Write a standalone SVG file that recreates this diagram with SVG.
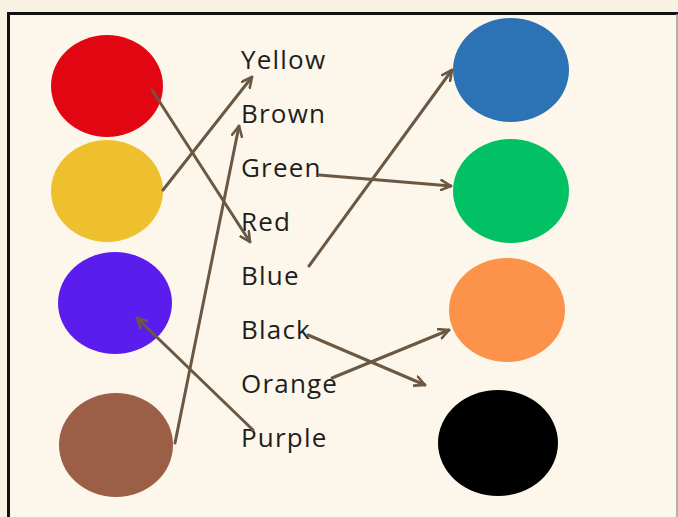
<svg xmlns="http://www.w3.org/2000/svg" width="678" height="517" viewBox="0 0 678 517">
<defs>
<style>
.lbl{font-family:"Open Sans","Liberation Sans",sans-serif;font-size:26px;fill:#1e1e1e;letter-spacing:1.2px}
.con{stroke:#6b5843;stroke-width:3;fill:none;stroke-linecap:round}
</style>
<marker id="ah" viewBox="0 0 12 12" refX="11" refY="6" markerWidth="12" markerHeight="12" markerUnits="userSpaceOnUse" orient="auto">
<path d="M1,1 L11,6 L1,11" fill="none" stroke="#6b5843" stroke-width="2.6" stroke-linecap="round" stroke-linejoin="round"/>
</marker>
</defs>
<rect x="0" y="0" width="678" height="517" fill="#f8f2e3"/>
<rect x="8.5" y="13.5" width="672" height="510" fill="#fdf6ea" stroke="#111" stroke-width="3"/>
<line x1="677" y1="14" x2="677" y2="517" stroke="#999" stroke-width="1.5"/>

<g id="circle-red"><ellipse cx="107" cy="86" rx="56" ry="51" fill="#e20613"/></g>
<g id="circle-yellow"><ellipse cx="107" cy="191" rx="56" ry="51" fill="#eec02e"/></g>
<g id="circle-purple"><ellipse cx="115" cy="303" rx="57" ry="51" fill="#5b1ded"/></g>
<g id="circle-brown"><ellipse cx="116" cy="445" rx="57" ry="52" fill="#9b5f45"/></g>
<g id="circle-blue"><ellipse cx="511" cy="70" rx="58" ry="52" fill="#2b73b5"/></g>
<g id="circle-green"><ellipse cx="511" cy="191" rx="58" ry="52" fill="#02c165"/></g>
<g id="circle-orange"><ellipse cx="507" cy="310" rx="58" ry="52" fill="#fd924a"/></g>
<g id="circle-black"><ellipse cx="498" cy="443" rx="60" ry="53" fill="#000"/></g>

<g id="label-yellow"><text class="lbl" x="241" y="69">Yellow</text></g>
<g id="label-brown"><text class="lbl" x="241" y="123">Brown</text></g>
<g id="label-green"><text class="lbl" x="241" y="177">Green</text></g>
<g id="label-red"><text class="lbl" x="241" y="231">Red</text></g>
<g id="label-blue"><text class="lbl" x="241" y="285">Blue</text></g>
<g id="label-black"><text class="lbl" x="241" y="339">Black</text></g>
<g id="label-orange"><text class="lbl" x="241" y="393">Orange</text></g>
<g id="label-purple"><text class="lbl" x="241" y="447">Purple</text></g>

<g id="connectors">
<line class="con" x1="152" y1="90" x2="250" y2="242" marker-end="url(#ah)"/>
<line class="con" x1="163" y1="190" x2="252" y2="77" marker-end="url(#ah)"/>
<line class="con" x1="175" y1="443" x2="239" y2="126" marker-end="url(#ah)"/>
<line class="con" x1="319" y1="175" x2="451" y2="186" marker-end="url(#ah)"/>
<line class="con" x1="309" y1="266" x2="452" y2="70" marker-end="url(#ah)"/>
<line class="con" x1="308" y1="335" x2="425" y2="385" marker-end="url(#ah)"/>
<line class="con" x1="332" y1="378" x2="449" y2="330" marker-end="url(#ah)"/>
<line class="con" x1="253" y1="430" x2="137" y2="318" marker-end="url(#ah)"/>
</g>
</svg>
